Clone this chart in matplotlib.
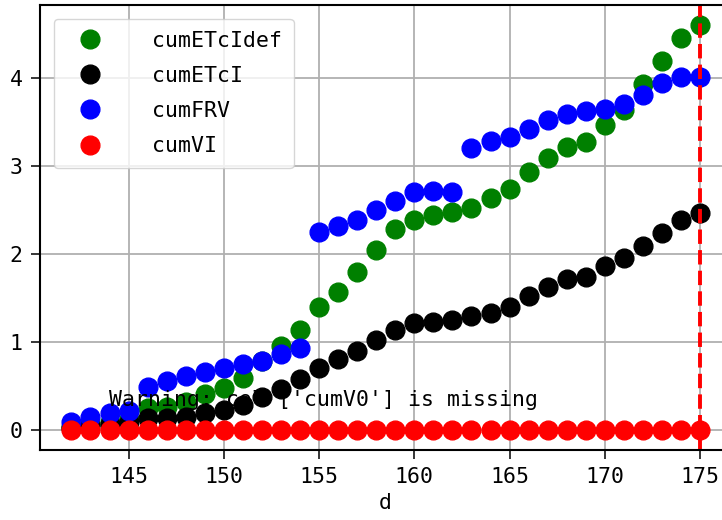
import matplotlib
matplotlib.use("Agg")
import matplotlib.pyplot as plt
import numpy as np

plt.rcParams['font.family'] = ['DejaVu Sans Mono']
plt.rcParams['font.size'] = 15.5

d = list(range(142, 176))

cumETcIdef = [0.03, 0.06, 0.09, 0.12, 0.25, 0.26, 0.32, 0.41, 0.47, 0.59, 0.78, 0.95, 1.14,
              1.40, 1.57, 1.79, 2.04, 2.28, 2.39, 2.44, 2.48, 2.52, 2.63, 2.74, 2.93, 3.09,
              3.22, 3.27, 3.47, 3.64, 3.93, 4.19, 4.45, 4.60]
cumETcI = [0.02, 0.04, 0.06, 0.09, 0.13, 0.13, 0.14, 0.19, 0.23, 0.28, 0.37, 0.46, 0.58,
           0.70, 0.80, 0.90, 1.02, 1.14, 1.21, 1.23, 1.25, 1.29, 1.33, 1.40, 1.52, 1.62,
           1.71, 1.74, 1.86, 1.95, 2.09, 2.24, 2.38, 2.47]
cumFRV = [0.09, 0.15, 0.19, 0.21, 0.49, 0.56, 0.61, 0.66, 0.70, 0.75, 0.78, 0.86, 0.93,
          2.25, 2.32, 2.39, 2.50, 2.60, 2.70, 2.71, 2.70, 3.20, 3.28, 3.33, 3.42, 3.52,
          3.59, 3.62, 3.65, 3.70, 3.81, 3.94, 4.01, 4.01]
cumVI = [0.0] * 34

series = [("cumETcIdef", cumETcIdef, "green"),
          ("cumETcI", cumETcI, "black"),
          ("cumFRV", cumFRV, "blue"),
          ("cumVI", cumVI, "red")]

vline_x = 175
warning = "Warning: col ['cumV0'] is missing"

fig = plt.figure(figsize=(7.22, 5.2), dpi=100)
ax = fig.add_axes([40/722, 70/520, 691.5/722, 445/520])

for name, vals, col in series:
    ax.plot(d, vals, 'o', color=col, ms=13.5, label=name)

ax.axvline(vline_x, color='red', linestyle='--', linewidth=2.8)

ax.grid(True, color='#b0b0b0', linewidth=1.3)
ax.set_axisbelow(True)
ax.set_xticks([145, 150, 155, 160, 165, 170, 175])
ax.set_yticks([0, 1, 2, 3, 4])
ax.tick_params(length=6.5, width=1.1, pad=6)
for s in ax.spines.values():
    s.set_linewidth(1.5)
ax.set_xlabel("d", labelpad=4)

ax.legend(loc='upper left', handlelength=2.2, handletextpad=1.8, borderpad=0.55,
          borderaxespad=0.65, labelspacing=0.7, numpoints=1)

ax.text(0.1, 0.1, warning, transform=ax.transAxes, fontsize=15.5, zorder=10)

fig.savefig("out.png", dpi=100)
